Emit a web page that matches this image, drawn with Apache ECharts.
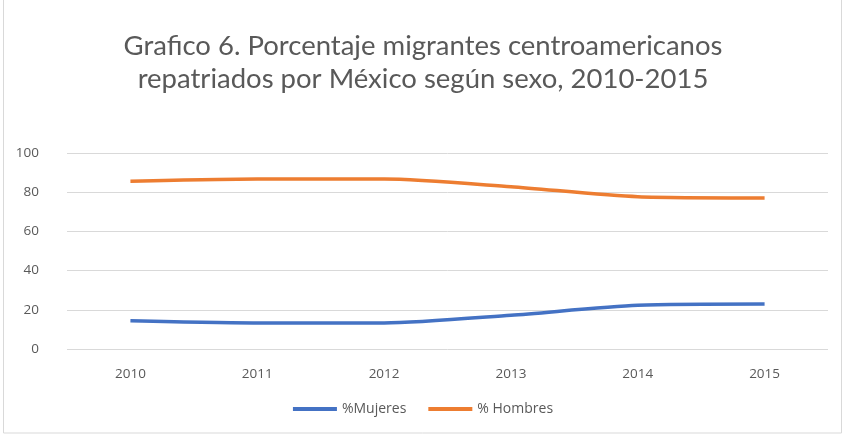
<!DOCTYPE html>
<html lang="es">
<head>
    <meta charset="UTF-8">
    <title>Grafico 6</title>
    <script src="https://cdn.jsdelivr.net/npm/echarts@6/dist/echarts.min.js"></script>
    <style>
        body { margin: 0; background: #fff; }
        #main { width: 846px; height: 435px; }
    </style>
</head>
<body>
    <div id="main"></div>
    <script type="text/javascript">
        // datos
        var years = ['2010', '2011', '2012', '2013', '2014', '2015'];
        var mujeres = [14.4, 13.3, 13.3, 17.2, 22.3, 22.9];
        var hombres = [85.6, 86.7, 86.7, 82.8, 77.7, 77.1];
        var yTicks = [0, 20, 40, 60, 80, 100];

        var gray = '#595959';
        var myChart = echarts.init(document.getElementById('main'));

        var option = {
            animation: false,
            title: {
                text: 'Grafico 6. Porcentaje migrantes centroamericanos\nrepatriados por México según sexo, 2010-2015',
                left: 'center',
                top: 25,
                textStyle: {
                    fontFamily: 'Lato',
                    fontWeight: 'normal',
                    fontSize: 27.5,
                    lineHeight: 33,
                    color: gray
                }
            },
            legend: {
                bottom: 14,
                left: 'center',
                itemWidth: 44,
                itemHeight: 4,
                itemGap: 22,
                icon: 'rect',
                textStyle: { color: gray, fontSize: 14, fontFamily: 'Open Sans' },
                data: ['%Mujeres', '% Hombres']
            },
            grid: {
                left: 67,
                right: 18,
                top: 153,
                bottom: 86,
                containLabel: false
            },
            xAxis: {
                type: 'category',
                data: years,
                boundaryGap: true,
                axisLine: { show: false },
                axisTick: { show: false },
                axisLabel: { color: gray, fontSize: 13.5, margin: 18, fontFamily: 'Open Sans' }
            },
            yAxis: {
                type: 'value',
                min: yTicks[0],
                max: yTicks[yTicks.length - 1],
                interval: 20,
                axisLine: { show: false },
                axisTick: { show: false },
                axisLabel: { color: gray, fontSize: 13.5, margin: 28, fontFamily: 'Open Sans' },
                splitLine: { lineStyle: { color: '#d9d9d9', width: 1 } }
            },
            series: [{
                name: '%Mujeres',
                type: 'line',
                data: mujeres,
                smooth: 0.25,
                showSymbol: false,
                lineStyle: { color: '#4472C4', width: 3.5 },
                itemStyle: { color: '#4472C4' }
            }, {
                name: '% Hombres',
                type: 'line',
                data: hombres,
                smooth: 0.25,
                showSymbol: false,
                lineStyle: { color: '#ED7D31', width: 3.5 },
                itemStyle: { color: '#ED7D31' }
            }],
            graphic: [{
                type: 'rect',
                shape: { x: 3.5, y: -1, width: 838, height: 434 },
                style: { fill: 'none', stroke: '#d9d9d9', lineWidth: 1 },
                silent: true
            }]
        };

        myChart.setOption(option);
    </script>
</body>
</html>
